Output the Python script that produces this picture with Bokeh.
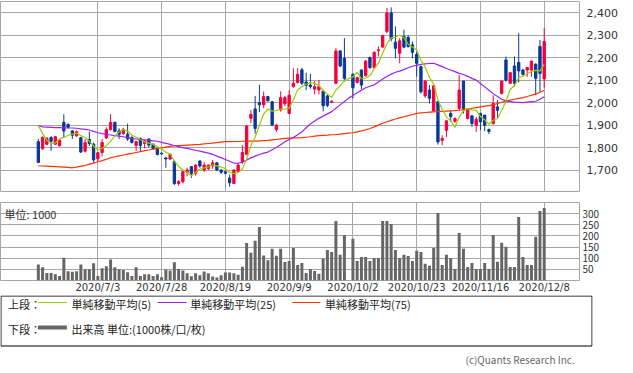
import numpy as np
import pandas as pd
from bokeh.plotting import figure
from bokeh.layouts import column
from bokeh.models import FixedTicker, ColumnDataSource, Label, NumeralTickFormatter, Range1d
from bokeh.embed import file_html
from bokeh.resources import INLINE

# ---- data: trading days 2020/6/15 .. 2020/12/8 (index 73 = 2020/10/1, TSE halt) ----
tick_pos = [14, 29, 44, 59, 74, 89, 104, 119]
tick_labels = ["2020/7/3", "2020/7/28", "2020/8/19", "2020/9/9",
               "2020/10/2", "2020/10/23", "2020/11/16", "2020/12/8"]
price_ticks = [1700, 1800, 1900, 2000, 2100, 2200, 2300, 2400]
volume_ticks = [50, 100, 150, 200, 250, 300]

open_ = [1826, 1795, 1815, 1845, 1815, 1808, 1912, 1903, 1874, 1852,
         1844, 1784, 1836, 1815, 1750, 1778, 1843, 1880, 1912, 1874,
         1862, 1859, 1845, 1809, 1841, 1818, 1838, 1815, 1796, 1775,
         1754, 1749, 1737, 1640, 1648, 1690, 1715, 1685, 1740, 1700,
         1707, 1718, 1732, 1700, 1692, 1664, 1640, 1694, 1737, 1770,
         1930, 1972, 2000, 1990, 2027, 2004, 1880, 1967, 1995, 1952,
         2071, 2090, 2146, 2092, 2078, 2060, 2056, 2051, 2030, 2001,
         2086, 2230, 2197, None, 2126, 2090, 2145, 2120, 2200, 2156,
         2232, 2247, 2317, 2399, 2269, 2220, 2294, 2290, 2257, 2215,
         2160, 2030, 2056, 1963, 2004, 1832, 1877, 1952, 1917, 1974,
         2096, 1929, 1941, 1899, 1952, 1944, 1880, 1907, 1981, 2041,
         2190, 2086, 2163, 2179, 2145, 2145, 2145, 2171, 2250, 2105]
high = [1838, 1850, 1845, 1850, 1852, 1836, 1948, 1908, 1878, 1876,
        1848, 1838, 1871, 1822, 1780, 1838, 1890, 1948, 1916, 1886,
        1888, 1906, 1850, 1830, 1844, 1835, 1842, 1818, 1800, 1778,
        1759, 1772, 1744, 1655, 1697, 1710, 1718, 1726, 1744, 1735,
        1725, 1745, 1735, 1705, 1698, 1680, 1703, 1728, 1810, 1900,
        1967, 2030, 2080, 2049, 2030, 2008, 1905, 2050, 2030, 2055,
        2153, 2153, 2155, 2133, 2128, 2096, 2100, 2053, 2036, 2010,
        2242, 2233, 2287, None, 2130, 2115, 2148, 2190, 2205, 2228,
        2250, 2302, 2421, 2424, 2339, 2287, 2324, 2300, 2272, 2227,
        2165, 2100, 2078, 2080, 2006, 1855, 1920, 1966, 1935, 2123,
        2096, 1975, 1945, 1937, 1955, 1947, 1885, 2033, 2011, 2097,
        2205, 2135, 2205, 2309, 2150, 2157, 2186, 2175, 2279, 2331]
low = [1732, 1790, 1810, 1785, 1812, 1805, 1843, 1885, 1838, 1848,
       1776, 1778, 1807, 1732, 1740, 1760, 1838, 1875, 1868, 1838,
       1856, 1830, 1818, 1784, 1785, 1796, 1800, 1790, 1765, 1768,
       1710, 1745, 1633, 1630, 1640, 1672, 1665, 1675, 1710, 1692,
       1700, 1705, 1695, 1683, 1680, 1626, 1638, 1690, 1727, 1765,
       1908, 1862, 1958, 1975, 2005, 1895, 1870, 1960, 1985, 1948,
       2066, 2085, 2078, 2055, 2062, 2036, 2036, 1962, 1980, 1998,
       2084, 2158, 2093, None, 2019, 2085, 2060, 2115, 2150, 2150,
       2205, 2245, 2309, 2272, 2197, 2175, 2242, 2245, 2197, 2115,
       2040, 2020, 1996, 1960, 1813, 1810, 1847, 1914, 1910, 1966,
       1952, 1925, 1892, 1870, 1877, 1873, 1860, 1902, 1929, 2036,
       2093, 2083, 2071, 2090, 2120, 2115, 2115, 2033, 2048, 2066]
close = [1734, 1845, 1842, 1828, 1848, 1833, 1874, 1890, 1855, 1870,
         1780, 1822, 1818, 1745, 1777, 1822, 1880, 1912, 1872, 1859,
         1882, 1838, 1823, 1826, 1809, 1829, 1811, 1796, 1769, 1772,
         1749, 1770, 1640, 1648, 1692, 1700, 1685, 1722, 1718, 1722,
         1722, 1732, 1700, 1690, 1686, 1643, 1700, 1722, 1778, 1896,
         1948, 1885, 1990, 2027, 2008, 1900, 1900, 2022, 2022, 2033,
         2086, 2126, 2086, 2077, 2071, 2071, 2071, 1986, 1988, 2006,
         2230, 2163, 2108, None, 2066, 2111, 2078, 2185, 2156, 2224,
         2235, 2299, 2399, 2284, 2242, 2275, 2247, 2250, 2224, 2175,
         2048, 2096, 2019, 2075, 1825, 1840, 1919, 1937, 1929, 2056,
         1974, 1971, 1907, 1926, 1914, 1899, 1872, 1996, 1966, 2096,
         2100, 2133, 2086, 2141, 2126, 2156, 2185, 2108, 2130, 2272]
# closes of the 4 sessions before 6/15 (needed for the 5-day average)
pre_close = [2015, 1992, 1898, 1846]

volume = [72, 60, 34, 34, 28, 20, 102, 42, 39, 42,
          72, 50, 50, 77, 20, 55, 64, 94, 60, 50,
          47, 37, 20, 60, 20, 28, 28, 20, 28, 15,
          49, 45, 82, 52, 45, 32, 19, 32, 23, 40,
          32, 18, 13, 23, 36, 36, 32, 26, 62, 168,
          125, 178, 240, 112, 91, 143, 111, 143, 83, 88,
          146, 70, 78, 34, 52, 43, 30, 99, 137, 128,
          267, 115, 204, None, 187, 88, 106, 106, 88, 101,
          101, 267, 267, 254, 137, 101, 115, 110, 88, 133,
          128, 75, 66, 146, 303, 70, 115, 101, 52, 213,
          142, 61, 79, 52, 52, 79, 52, 204, 84, 169,
          151, 61, 61, 285, 106, 70, 70, 196, 312, 325]

ma25 = [1897, 1892, 1891, 1890, 1889, 1889, 1888, 1887, 1887, 1886,
        1883, 1881, 1878, 1872, 1866, 1862, 1859, 1856, 1853, 1851,
        1848, 1844, 1840, 1838, 1836, 1834, 1832, 1830, 1828, 1823,
        1819, 1814, 1808, 1804, 1800, 1796, 1792, 1788, 1784, 1780,
        1775, 1770, 1762, 1755, 1747, 1739, 1731, 1730, 1735, 1745,
        1754, 1762, 1769, 1775, 1780, 1790, 1800, 1813, 1826, 1836,
        1845, 1857, 1870, 1888, 1905, 1918, 1930, 1940, 1950, 1960,
        1975, 1990, 2005, 2020, 2032, 2044, 2055, 2066, 2073, 2079,
        2092, 2105, 2116, 2127, 2135, 2140, 2147, 2155, 2162, 2166,
        2170, 2172, 2174, 2175, 2168, 2160, 2152, 2145, 2138, 2130,
        2125, 2117, 2108, 2100, 2085, 2070, 2055, 2040, 2027, 2015,
        2008, 2004, 2002, 2001, 2000, 2002, 2004, 2006, 2015, 2026]
ma75 = [1719, 1718, 1717, 1716, 1715, 1714, 1713, 1712, 1710, 1713,
        1717, 1720, 1726, 1731, 1737, 1742, 1748, 1754, 1759, 1763,
        1767, 1771, 1774, 1778, 1782, 1786, 1789, 1793, 1796, 1799,
        1802, 1805, 1808, 1809, 1810, 1811, 1812, 1813, 1814, 1816,
        1818, 1820, 1822, 1824, 1826, 1826, 1827, 1827, 1828, 1828,
        1829, 1829, 1830, 1831, 1832, 1834, 1836, 1839, 1841, 1842,
        1843, 1843, 1844, 1846, 1848, 1851, 1853, 1854, 1855, 1857,
        1858, 1860, 1862, 1864, 1866, 1870, 1874, 1879, 1885, 1892,
        1900, 1908, 1915, 1921, 1927, 1932, 1937, 1942, 1947, 1952,
        1954, 1956, 1958, 1959, 1960, 1961, 1962, 1963, 1964, 1966,
        1969, 1972, 1975, 1978, 1981, 1984, 1987, 1990, 1996, 2001,
        2007, 2011, 2015, 2019, 2022, 2027, 2033, 2038, 2046, 2054]

# ---- styling ----
RED = "#f5003d"
BLUE = "#0a3897"
GRID = "#a6a6a6"
C_MA5 = "#99cc00"
C_MA25 = "#a020f0"
C_MA75 = "#ff3300"
JP = "Noto Sans CJK JP"

n = len(close)
idx = np.arange(n)
df = pd.DataFrame({"x": idx, "o": open_, "h": high, "l": low, "c": close,
                   "v": volume}, dtype=float)
df["x"] = idx
cand = df.dropna(subset=["c"]).copy()
cand["top"] = cand[["o", "c"]].max(axis=1)
cand["bottom"] = cand[["o", "c"]].min(axis=1)
cand["color"] = np.where(cand["c"] >= cand["o"], RED, BLUE)
src = ColumnDataSource(cand)

# 5-day simple moving average from the closes (skipping the halted day)
allc = pd.Series(pre_close + close, dtype=float)
ma5_all = allc.dropna().rolling(5).mean().reindex(allc.index)
ma5 = ma5_all.values[len(pre_close):]
m5 = ~np.isnan(ma5)

XR = Range1d(-8.9, 127.3)
FW = 579


def no_ticks(ax):
    ax.axis_line_color = None
    ax.major_tick_line_color = None
    ax.minor_tick_line_color = None
    ax.major_tick_out = 0
    ax.major_tick_in = 0
    ax.minor_tick_out = 0
    ax.minor_tick_in = 0


# ---- price panel ----
p = figure(frame_width=FW, frame_height=191, x_range=XR, y_range=Range1d(1600, 2450),
           y_axis_location="right", toolbar_location=None, output_backend="svg",
           min_border_left=0, min_border_top=1, min_border_bottom=0, min_border_right=0)
p.xaxis.visible = False
p.xgrid.ticker = FixedTicker(ticks=tick_pos)
p.ygrid.ticker = FixedTicker(ticks=price_ticks)
p.yaxis.ticker = FixedTicker(ticks=price_ticks)
p.yaxis.formatter = NumeralTickFormatter(format="0,0")
no_ticks(p.yaxis[0])
p.yaxis.major_label_standoff = 7
p.yaxis.major_label_text_font = "DejaVu Sans"
p.yaxis.major_label_text_font_size = "11px"
p.yaxis.major_label_text_color = "#333333"
p.grid.grid_line_color = GRID
p.grid.grid_line_width = 1
p.outline_line_color = GRID
p.outline_line_width = 1

p.segment(x0="x", y0="h", x1="x", y1="l", source=src, line_color="color", line_width=1)
p.vbar(x="x", width=0.55, top="top", bottom="bottom", source=src,
       fill_color="color", line_color="color", line_width=1)
p.line(idx, ma75, line_color=C_MA75, line_width=1.2)
p.line(idx, ma25, line_color=C_MA25, line_width=1.2)
p.line(idx[m5], ma5[m5], line_color=C_MA5, line_width=1.2)

# ---- volume panel ----
vol = df.dropna(subset=["v"])
vsrc = ColumnDataSource(vol)
v = figure(frame_width=FW, frame_height=78, x_range=XR, y_range=Range1d(0, 350),
           y_axis_location="right", toolbar_location=None, output_backend="svg",
           min_border_left=0, min_border_top=10, min_border_bottom=0, min_border_right=0)
v.vbar(x="x", width=0.7, top="v", bottom=0, source=vsrc,
       fill_color="#666666", line_color=None)
v.xaxis.ticker = FixedTicker(ticks=tick_pos)
v.xaxis.major_label_overrides = {t: s for t, s in zip(tick_pos, tick_labels)}
no_ticks(v.xaxis[0])
v.xaxis.major_label_standoff = 1
v.xaxis.major_label_text_font = "DejaVu Sans"
v.xaxis.major_label_text_font_size = "10px"
v.xaxis.major_label_text_color = "#333333"
v.yaxis.ticker = FixedTicker(ticks=volume_ticks)
no_ticks(v.yaxis[0])
v.yaxis.major_label_standoff = 3
v.yaxis.major_label_text_font = JP
v.yaxis.major_label_text_font_size = "10px"
v.yaxis.major_label_text_color = "#333333"
v.xgrid.ticker = FixedTicker(ticks=tick_pos)
v.ygrid.ticker = FixedTicker(ticks=volume_ticks)
v.grid.grid_line_color = GRID
v.outline_line_color = GRID
v.add_layout(Label(x=4, y=300, x_units="screen", y_units="data", text="単位: 1000",
                   text_font=JP, text_font_size="11px", text_color="#333333",
                   text_baseline="middle"))

# ---- legend box ----
LW, LH = 633, 84
lg = figure(width=LW, height=LH, x_range=Range1d(0, LW), y_range=Range1d(0, LH),
            toolbar_location=None, output_backend="svg", min_border=0)
lg.axis.visible = False
lg.grid.visible = False
lg.outline_line_color = None
lg.quad(left=[0.5], right=[LW - 0.5], top=[LH - 0.5], bottom=[LH - 50.5],
        fill_color=None, line_color="#000000", line_width=1)
row1 = LH - 8
row2 = LH - 33
lg.segment(x0=[40, 168, 312], y0=[row1 + 1] * 3, x1=[71, 199, 342], y1=[row1 + 1] * 3,
           line_color=[C_MA5, C_MA25, C_MA75], line_width=1.2)
lg.segment(x0=[40], y0=[row2 + 1], x1=[71], y1=[row2 + 1], line_color="#666666", line_width=4)
for x, y, t in [(8, row1, "上段："), (76, row1, "単純移動平均(5)"),
                (203, row1, "単純移動平均(25)"), (347, row1, "単純移動平均(75)"),
                (8, row2, "下段："), (76, row2, "出来高 単位:(1000株/口/枚)")]:
    lg.add_layout(Label(x=x, y=y, text=t, text_font=JP, text_font_size="11px",
                        text_color="#222222", text_baseline="middle"))
lg.add_layout(Label(x=614, y=LH - 64, text="(c)Quants Research Inc.", text_font=JP,
                    text_font_size="10px", text_color="#666666",
                    text_baseline="middle", text_align="right"))

layout = column(p, v, lg, spacing=0)
open("out.html", "w").write(file_html(layout, INLINE))
